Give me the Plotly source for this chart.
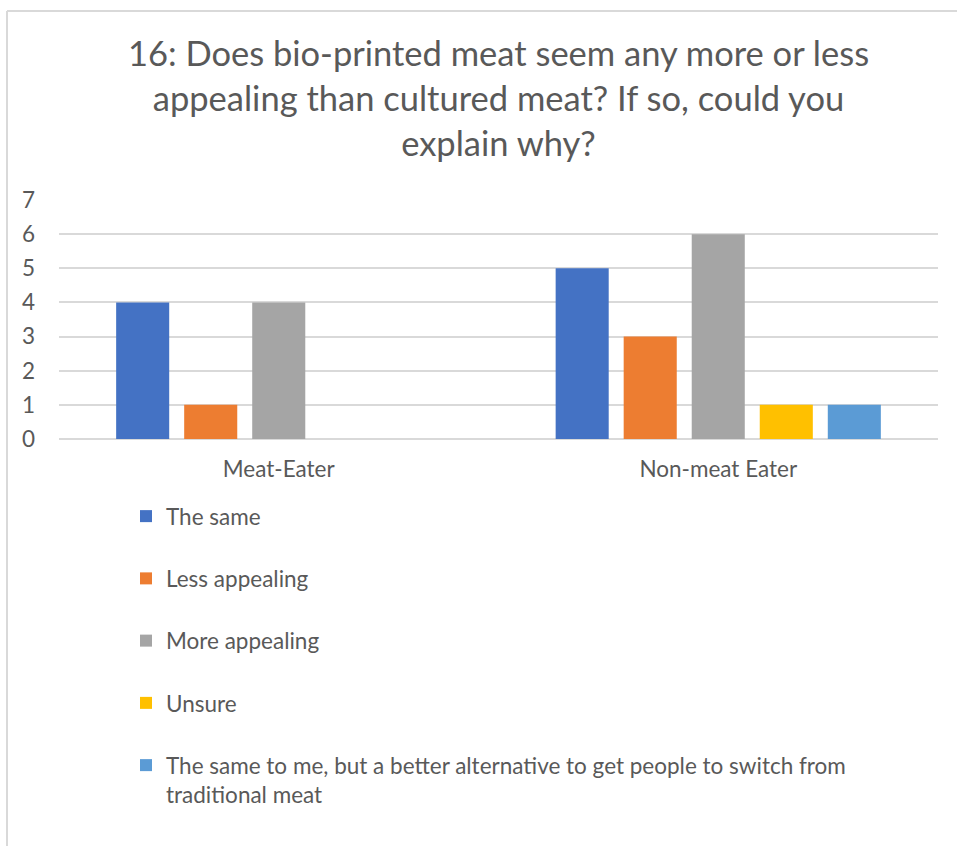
import plotly.graph_objects as go

categories = ["Meat-Eater", "Non-meat Eater"]
series_names = [
    "The same",
    "Less appealing",
    "More appealing",
    "Unsure",
    "The same to me, but a better alternative to get people to switch from<br>traditional meat",
]
series_values = [
    [4, 5],
    [1, 3],
    [4, 6],
    [0, 1],
    [0, 1],
]
colors = ["#4472C4", "#ED7D31", "#A5A5A5", "#FFC000", "#5B9BD5"]
y_ticks = [0, 1, 2, 3, 4, 5, 6, 7]
title_text = ("16: Does bio-printed meat seem any more or less<br>"
              "appealing than cultured meat? If so, could you<br>explain why?")

FONT = "Lato, Carlito, 'Open Sans', sans-serif"
W, H = 957, 846
L, R, T, B = 59, 19, 200, 407
pw, ph = W - L - R, H - T - B
FS = 22.5

fig = go.Figure()
for i, (name, vals, col) in enumerate(zip(series_names, series_values, colors)):
    fig.add_trace(go.Bar(
        x=categories, y=vals, name=name, marker=dict(color=col, line=dict(width=0)),
        legendgroup=f"g{i}",
    ))

def px_x(p):
    return (p - L) / pw

def px_y(p):
    return (H - B - p) / ph

fig.update_layout(
    width=W, height=H,
    margin=dict(l=L, r=R, t=T, b=B, autoexpand=False),
    paper_bgcolor="white", plot_bgcolor="white",
    barmode="group", bargap=0.226, bargroupgap=0.22,
    font=dict(family=FONT, color="#595959", size=FS),
    title=dict(text=title_text, x=0.5, xref="paper", xanchor="center",
               yref="container", y=1 - 66 / H, yanchor="top",
               font=dict(family=FONT, size=34.5, color="#595959")),
    xaxis=dict(showgrid=False, showline=False, ticks="", ticklabelstandoff=14,
               tickfont=dict(size=FS, color="#595959")),
    yaxis=dict(range=[0, 7], tickvals=y_ticks, showgrid=True, gridcolor="#D9D9D9", gridwidth=1.5,
               zeroline=True, zerolinecolor="#D9D9D9", zerolinewidth=1.5,
               showline=False, ticks="", ticklabelstandoff=23,
               tickfont=dict(size=FS, color="#595959")),
    showlegend=True,
    legend=dict(orientation="v", x=px_x(126), xanchor="left", y=px_y(495), yanchor="top",
                traceorder="grouped", tracegroupgap=30, valign="top",
                font=dict(size=FS, color="#595959"),
                bgcolor="rgba(0,0,0,0)", itemclick=False),
    shapes=[
        dict(type="line", xref="paper", yref="paper", x0=px_x(7), x1=px_x(7),
             y0=px_y(11), y1=px_y(860), line=dict(color="#D9D9D9", width=2)),
        dict(type="line", xref="paper", yref="paper", x0=px_x(7), x1=px_x(970),
             y0=px_y(11), y1=px_y(11), line=dict(color="#D9D9D9", width=2)),
    ],
)

fig.write_html("out.html")
